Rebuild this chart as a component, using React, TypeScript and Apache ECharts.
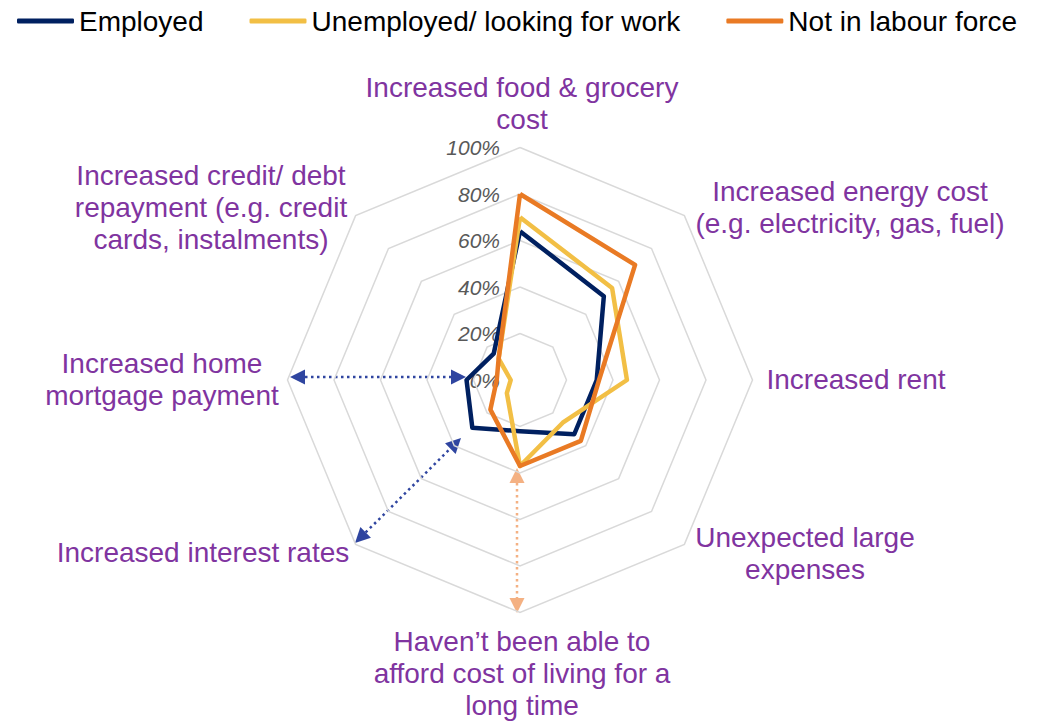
import React, { useEffect, useRef } from "react";
import * as echarts from "echarts";

// Categories clockwise from the top
const categories = [
  "Increased food & grocery\ncost",
  "Increased energy cost\n(e.g. electricity, gas, fuel)",
  "Increased rent",
  "Unexpected large\nexpenses",
  "Haven’t been able to\nafford cost of living for a\nlong time",
  "Increased interest rates",
  "Increased home\nmortgage payment",
  "Increased credit/ debt\nrepayment (e.g. credit\ncards, instalments)",
];
const seriesNames = ["Employed", "Unemployed/ looking for work", "Not in labour force"];
const employed = [64, 51, 33, 33, 22, 29, 23, 16];
const unemployed = [70, 56, 46, 26, 37, 8, 4, 13];
const notInLabour = [80, 70, 34, 37, 37, 18, 10, 13];
const tickLabels = ["0%", "20%", "40%", "60%", "80%", "100%"];

// Layout (pixel positions of label blocks, clockwise)
const labelPos: [number, number][] = [
  [522, 103],
  [850, 207],
  [856, 379],
  [805, 553],
  [522, 673],
  [203, 552],
  [162, 379],
  [211, 207],
];

const CX = 520;
const CY = 380;
const R = 232.5;
const FONT = "'Liberation Sans', Arial, sans-serif";
const COLORS = ["#002060", "#F2BF45", "#E97A24"];

// ECharts radar goes counter-clockwise; reorder clockwise lists
const ccw = <T,>(arr: T[]): T[] => [arr[0], ...arr.slice(1).reverse()];

function arrow(x1: number, y1: number, x2: number, y2: number, color: string) {
  const a = Math.atan2(y2 - y1, x2 - x1);
  const L = 15;
  const W = 7.5;
  const c = Math.cos(a);
  const s = Math.sin(a);
  const head = (tx: number, ty: number, dc: number, ds: number) => {
    const bx = tx - L * dc;
    const by = ty - L * ds;
    return {
      type: "polygon",
      silent: true,
      shape: {
        points: [
          [tx, ty],
          [bx + W * ds, by - W * dc],
          [bx - W * ds, by + W * dc],
        ],
      },
      style: { fill: color },
    };
  };
  return [
    {
      type: "line",
      silent: true,
      shape: { x1: x1 + L * c, y1: y1 + L * s, x2: x2 - L * c, y2: y2 - L * s },
      style: { stroke: color, lineWidth: 2.5, lineDash: [2.5, 3.5] },
    },
    head(x1, y1, -c, -s),
    head(x2, y2, c, s),
  ];
}

export default function App() {
  const ref = useRef<HTMLDivElement>(null);
  useEffect(() => {
    if (!ref.current) return;
    const chart = echarts.init(ref.current, undefined, { renderer: "svg" });
    const step = R / (tickLabels.length - 1);
    const graphic: any[] = [];
    categories.forEach((name, i) => {
      graphic.push({
        type: "text",
        silent: true,
        style: {
          text: name,
          x: labelPos[i][0],
          y: labelPos[i][1],
          align: "center",
          verticalAlign: "middle",
          textAlign: "center",
          textVerticalAlign: "middle",
          fontSize: 28,
          lineHeight: 32,
          fontFamily: FONT,
          fill: "#8034A0",
        },
      });
    });
    tickLabels.forEach((t, i) => {
      graphic.push({
        type: "text",
        silent: true,
        style: {
          text: t,
          x: 500,
          y: CY - i * step,
          align: "right",
          verticalAlign: "middle",
          textAlign: "right",
          textVerticalAlign: "middle",
          fontSize: 21,
          fontStyle: "italic",
          fontFamily: FONT,
          fill: "#595959",
        },
      });
    });
    graphic.push(...arrow(290, 377, 466, 377, "#2F45A0"));
    graphic.push(...arrow(355, 543, 461, 438, "#2F45A0"));
    graphic.push(...arrow(517, 468, 517, 613, "#F4B183"));

    const lists = [employed, unemployed, notInLabour];
    chart.setOption({
      animation: false,
      legend: {
        data: seriesNames,
        left: 12,
        top: 2,
        icon: "roundRect",
        itemWidth: 57,
        itemHeight: 5,
        itemGap: 46,
        textStyle: { fontSize: 28, color: "#000", fontFamily: FONT },
      },
      radar: {
        center: [CX, CY],
        radius: R,
        startAngle: 90,
        shape: "polygon",
        splitNumber: 5,
        indicator: ccw(categories).map((name) => ({ name, min: 0, max: 100 })),
        axisName: { show: false },
        axisLine: { show: false },
        axisTick: { show: false },
        axisLabel: { show: false },
        splitArea: { show: false },
        splitLine: { lineStyle: { color: "#D9D9D9", width: 1.5 } },
      },
      series: [
        {
          type: "radar",
          symbol: "none",
          data: lists.map((vals, i) => ({
            name: seriesNames[i],
            value: ccw(vals),
            lineStyle: { color: COLORS[i], width: 4.5 },
            itemStyle: { color: COLORS[i] },
          })),
        },
      ],
      graphic,
    });
    return () => chart.dispose();
  }, []);
  return (
    <div
      ref={ref}
      style={{ position: "absolute", left: 0, top: 0, width: 1046, height: 721, background: "#fff" }}
    />
  );
}
